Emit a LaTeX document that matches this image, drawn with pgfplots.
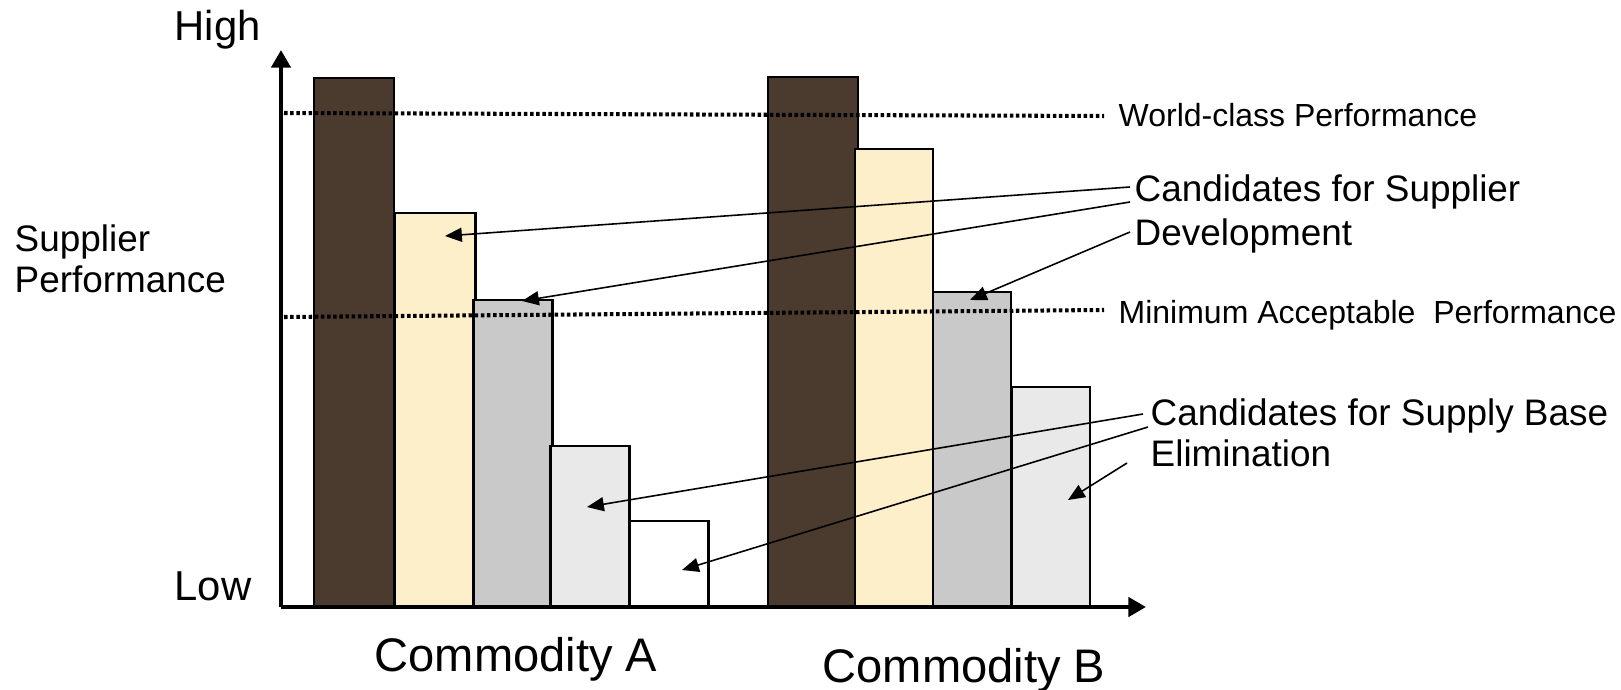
\documentclass[border=0pt]{standalone}
\usepackage{fontspec}
\setmainfont{Liberation Sans}
\usepackage{pgfplots}
\pgfplotsset{compat=1.18}
\usetikzlibrary{arrows.meta}

\definecolor{barbrown}{RGB}{75,58,46}
\definecolor{barcream}{RGB}{252,239,201}
\definecolor{bargray}{RGB}{201,201,201}
\definecolor{barlight}{RGB}{233,233,233}

\pgfplotsset{
  perfbar/.style={ybar, bar width=80, bar shift=0pt, draw=black, line width=0.7pt},
  pointer/.style={line width=0.45pt, -{Triangle[length=4.8pt,width=4pt]}},
  limitline/.style={line width=1.15pt, dash pattern=on 1pt off 0.75pt},
}

\begin{document}
\begin{tikzpicture}
% page is exactly the chart, 1 px of the reference = 0.01cm
\useasboundingbox (0,0) rectangle (16.21cm,6.89cm);
\begin{axis}[
    at={(2.81cm,0.82cm)}, anchor=south west,
    scale only axis,
    width=8.65cm, height=5.57cm,
    xmin=281, xmax=1146,
    ymin=0, ymax=557,
    axis x line=bottom, axis y line=left,
    axis on top,
    axis line style={line width=1.2pt, -{Triangle[length=5pt,width=5.4pt]}},
    xtick=\empty, ytick=\empty,
    clip=false,
  ]
  % Commodity A
  \addplot[perfbar, fill=barbrown] coordinates {(354,529)};
  \addplot[perfbar, fill=barcream, bar width=81] coordinates {(435,394)};
  \addplot[perfbar, fill=bargray, bar width=79] coordinates {(513,307)};
  \addplot[perfbar, fill=barlight, bar width=79] coordinates {(590,161)};
  \addplot[perfbar, fill=white, bar width=79] coordinates {(669,86)};
  % Commodity B
  \addplot[perfbar, fill=barbrown, bar width=90] coordinates {(813,530)};
  \addplot[perfbar, fill=barcream, bar width=78] coordinates {(894,458)};
  \addplot[perfbar, fill=bargray, bar width=78] coordinates {(972,315)};
  \addplot[perfbar, fill=barlight, bar width=78] coordinates {(1051,220)};

  % performance levels
  \addplot[limitline] coordinates {(284,494) (1104,491)};
  \addplot[limitline] coordinates {(284,290) (1104,297)};

  % pointers
  \addplot[pointer] coordinates {(1130,420) (445,371)};
  \addplot[pointer] coordinates {(1130,405) (522,306)};
  \addplot[pointer] coordinates {(1130,375) (970,307)};
  \addplot[pointer] coordinates {(1143,193) (587,100)};
  \addplot[pointer] coordinates {(1148,180) (682,37)};
  \addplot[pointer] coordinates {(1127,144) (1068,107)};

  \begin{scope}[every node/.style={inner sep=0pt, anchor=mid west}]
    \node[font=\fontsize{11.9}{14}\selectfont] at (axis cs:174,576) {High};
    \node[font=\fontsize{11.9}{14}\selectfont] at (axis cs:174,16) {Low};
    \node[font=\fontsize{10.5}{12.6}\selectfont] at (axis cs:14,365) {Supplier};
    \node[font=\fontsize{10.5}{12.6}\selectfont] at (axis cs:14,324) {Performance};
    \node[font=\fontsize{13.4}{16}\selectfont] at (axis cs:374,-55) {Commodity A};
    \node[font=\fontsize{13.4}{16}\selectfont] at (axis cs:822,-66) {Commodity B};
    \node[font=\fontsize{9.1}{11}\selectfont] at (axis cs:1118,490) {World-class Performance};
    \node[font=\fontsize{10.5}{12.6}\selectfont] at (axis cs:1134,415) {Candidates for Supplier};
    \node[font=\fontsize{10.5}{12.6}\selectfont] at (axis cs:1134,371) {Development};
    \node[font=\fontsize{9.1}{11}\selectfont] at (axis cs:1118,293) {Minimum Acceptable\ \ Performance};
    \node[font=\fontsize{10.5}{12.6}\selectfont] at (axis cs:1150,191) {Candidates for Supply Base};
    \node[font=\fontsize{10.5}{12.6}\selectfont] at (axis cs:1150,150) {Elimination};
  \end{scope}
\end{axis}
\end{tikzpicture}
\end{document}
